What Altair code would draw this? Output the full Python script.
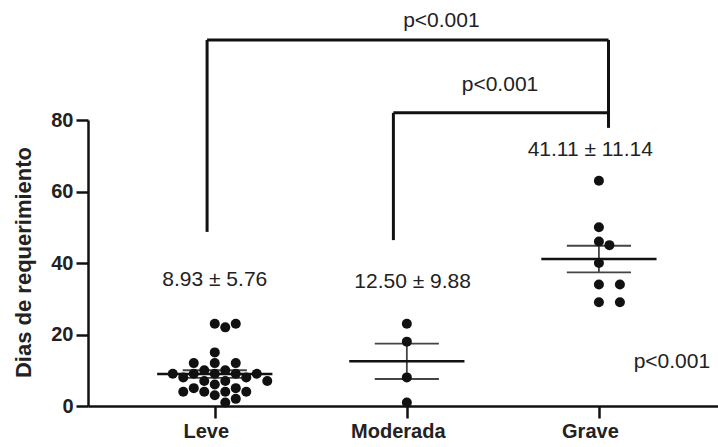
import altair as alt
import pandas as pd
import numpy as np

# ---------------- data ----------------
groups = ["Leve", "Moderada", "Grave"]
leve = [23, 22, 23, 15, 12, 12, 12,
        10, 10, 9, 9, 9, 9, 9, 8, 8, 7, 7, 7, 6,
        5, 5, 4, 4, 4, 4, 3, 2, 1]
moderada = [23, 18, 8, 1]
grave = [63, 50, 46, 45, 40, 34, 34, 29, 29]
series = [leve, moderada, grave]

y_ticks = [0, 20, 40, 60, 80]
y_title = "Dias de requerimiento"

# p-value annotations: label, x (category index), y (days)
p_labels = ["p<0.001", "p<0.001", "p<0.001"]
p_x = [1.18, 1.485, 2.38]
p_y = [107.7, 89.8, 12.3]

# summary-label anchors (category index, days)
sum_x = [0.0, 1.03, 1.955]
sum_y = [35.2, 34.7, 71.6]

# comparison brackets: x, x2, y, y2 (category index / days)
br_x = [-0.04, -0.04, 2.05, 0.93, 0.93]
br_x2 = [2.05, -0.04, 2.05, 2.05, 0.93]
br_y = [102.4, 48.7, 77.8, 82.0, 46.4]
br_y2 = [102.4, 102.4, 102.4, 82.0, 82.0]

# ---------------- layout ----------------
W, H = 630, 286
X_DOM = [-0.66, 2.62]
Y_DOM = [0, 80]
PX_X = W / (X_DOM[1] - X_DOM[0])
PX_Y = H / (Y_DOM[1] - Y_DOM[0])
FONT = "Liberation Sans"


def swarm(vals, d=11.0, s=10.5):
    placed = []
    offs = [0.0] * len(vals)
    order = sorted(range(len(vals)), key=lambda i: -vals[i])
    cands = [0.0]
    for m in range(1, 15):
        cands += [m * s, -m * s]
    for i in order:
        y = vals[i] * PX_Y
        for c in cands:
            if all((c - px) ** 2 + (y - py) ** 2 >= d * d * 0.95 for px, py in placed):
                break
        placed.append((c, y))
        offs[i] = c / PX_X
    return offs


pts_rows = []
sum_rows = []
for gi, (g, vals) in enumerate(zip(groups, series)):
    offs = swarm(vals)
    for v, o in zip(vals, offs):
        pts_rows.append({"grupo": g, "x": gi + o, "dias": v})
    arr = np.array(vals, dtype=float)
    m = arr.mean()
    sd = arr.std(ddof=1)
    se = sd / np.sqrt(len(arr))
    sum_rows.append({
        "grupo": g, "xi": gi, "mean": m, "lo": m - se, "hi": m + se,
        "ml": gi - 0.30, "mr": gi + 0.30, "sl": gi - 0.167, "sr": gi + 0.167,
        "label": f"{m:.2f} ± {sd:.2f}", "tx": sum_x[gi], "ty": sum_y[gi],
    })

pts = pd.DataFrame(pts_rows)
summ = pd.DataFrame(sum_rows)
pdf = pd.DataFrame({"label": p_labels, "x": p_x, "y": p_y})
brdf = pd.DataFrame({"x": br_x, "x2": br_x2, "y": br_y, "y2": br_y2})

xscale = alt.Scale(domain=X_DOM, nice=False, zero=False)
yscale = alt.Scale(domain=Y_DOM, nice=False)

x_axis = alt.Axis(
    values=[0, 1, 2], labelExpr=f"{groups}[datum.value]", title=None,
    grid=False, domainColor="#111", domainWidth=2.5, tickColor="#111",
    tickWidth=2.5, tickSize=12, labelFont=FONT, labelFontSize=20,
    labelFontWeight="bold", labelColor="#222", labelPadding=3,
    labelFlush=False, labelOffset=-9,
)
y_axis = alt.Axis(
    values=y_ticks, title=y_title, grid=False, domainColor="#111",
    domainWidth=2.5, tickColor="#111", tickWidth=2.5, tickSize=12,
    labelFont=FONT, labelFontSize=20, labelFontWeight="bold",
    labelColor="#222", labelPadding=3, titleFont=FONT, titleFontSize=22,
    titleFontWeight="bold", titleColor="#222", titleX=-65, titleY=142,
    titleAngle=270, titleAlign="center", titleBaseline="middle",
)

points = alt.Chart(pts).mark_circle(size=100, color="#111", opacity=1).encode(
    x=alt.X("x:Q", scale=xscale, axis=x_axis),
    y=alt.Y("dias:Q", scale=yscale, axis=y_axis),
)

mean_line = alt.Chart(summ).mark_rule(color="#111", strokeWidth=2.5).encode(
    x=alt.X("ml:Q", scale=xscale), x2="mr:Q", y=alt.Y("mean:Q", scale=yscale)
)
se_hi = alt.Chart(summ).mark_rule(color="#444", strokeWidth=1.8).encode(
    x=alt.X("sl:Q", scale=xscale), x2="sr:Q", y=alt.Y("hi:Q", scale=yscale)
)
se_lo = alt.Chart(summ).mark_rule(color="#444", strokeWidth=1.8).encode(
    x=alt.X("sl:Q", scale=xscale), x2="sr:Q", y=alt.Y("lo:Q", scale=yscale)
)
se_v = alt.Chart(summ).mark_rule(color="#444", strokeWidth=1.8).encode(
    x=alt.X("xi:Q", scale=xscale), y=alt.Y("lo:Q", scale=yscale), y2="hi:Q"
)

sum_text = alt.Chart(summ).mark_text(
    font=FONT, fontSize=21, color="#222", baseline="middle", align="center", clip=False
).encode(
    x=alt.X("tx:Q", scale=xscale), y=alt.Y("ty:Q", scale=yscale), text="label:N"
)

brackets = alt.Chart(brdf).mark_rule(color="#111", strokeWidth=3, clip=False).encode(
    x=alt.X("x:Q", scale=xscale), x2="x2:Q",
    y=alt.Y("y:Q", scale=yscale), y2="y2:Q",
)

p_text = alt.Chart(pdf).mark_text(
    font=FONT, fontSize=21, color="#222", baseline="middle", align="center", clip=False
).encode(
    x=alt.X("x:Q", scale=xscale), y=alt.Y("y:Q", scale=yscale), text="label:N"
)

chart = alt.layer(
    se_v, se_hi, se_lo, mean_line, points, sum_text, brackets, p_text
).properties(
    width=W, height=H,
    autosize=alt.AutoSizeParams(type="none"),
    padding={"left": 88, "top": 120, "right": 0, "bottom": 41},
    background="white",
).configure_view(stroke=None)

chart.save("out.html", embed_options={"renderer": "svg", "actions": False})
